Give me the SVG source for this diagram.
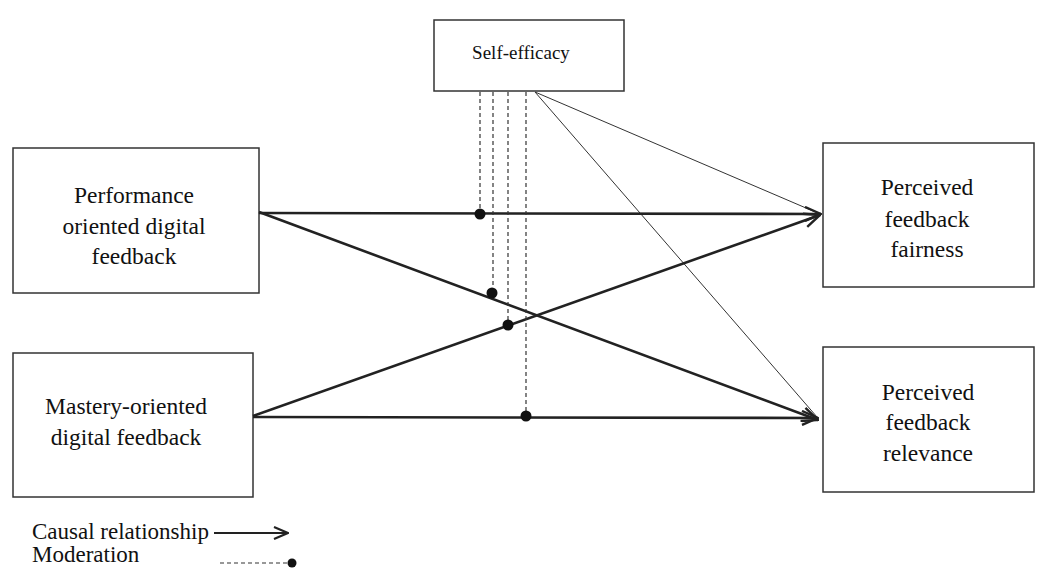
<svg xmlns="http://www.w3.org/2000/svg" width="1037" height="570" viewBox="0 0 1037 570">
<style>
.box{fill:#fff;stroke:#333;stroke-width:1.5}
.t{font-family:"Liberation Serif","Times New Roman",serif;font-size:23.5px;fill:#111;text-anchor:middle}
.lg{font-family:"Liberation Serif","Times New Roman",serif;font-size:23px;fill:#111}
.thick{stroke:#222;stroke-width:2.6;fill:none}
.thin{stroke:#333;stroke-width:1;fill:none}
.dash{stroke:#333;stroke-width:1.2;stroke-dasharray:4 3;fill:none}
.dot{fill:#111}
</style>
<defs>
<marker id="ah" viewBox="0 0 18 16" refX="17" refY="8" markerWidth="18" markerHeight="16" markerUnits="userSpaceOnUse" orient="auto">
<path d="M1,1 L17,8 L1,15" fill="none" stroke="#222" stroke-width="2.4"/>
</marker>
<marker id="ahs" viewBox="0 0 16 14" refX="15" refY="7" markerWidth="16" markerHeight="14" markerUnits="userSpaceOnUse" orient="auto">
<path d="M1,1 L15,7 L1,13" fill="none" stroke="#222" stroke-width="2.2"/>
</marker>
</defs>
<rect width="1037" height="570" fill="#fff"/>
<g id="self-efficacy"><rect class="box" x="434" y="20" width="190" height="71"/><text class="t" x="521" y="59" style="font-size:19px">Self-efficacy</text></g>
<g id="performance"><rect class="box" x="13" y="148" width="246" height="145"/><text class="t" x="134"><tspan x="134" y="203">Performance</tspan><tspan x="134" y="234">oriented digital</tspan><tspan x="134" y="264">feedback</tspan></text></g>
<g id="mastery"><rect class="box" x="13" y="353" width="240" height="144"/><text class="t"><tspan x="126" y="414">Mastery-oriented</tspan><tspan x="126" y="445">digital feedback</tspan></text></g>
<g id="fairness"><rect class="box" x="823" y="143" width="211" height="144"/><text class="t"><tspan x="927" y="195">Perceived</tspan><tspan x="927" y="227">feedback</tspan><tspan x="927" y="257">fairness</tspan></text></g>
<g id="relevance"><rect class="box" x="823" y="347" width="211" height="145"/><text class="t"><tspan x="928" y="400">Perceived</tspan><tspan x="928" y="430">feedback</tspan><tspan x="928" y="461">relevance</tspan></text></g>
<g id="connectors">
<line class="thin" x1="535" y1="92" x2="820" y2="214"/>
<line class="thin" x1="535" y1="92" x2="817" y2="417"/>
<line class="thick" x1="259" y1="213" x2="821" y2="214" marker-end="url(#ah)"/>
<line class="thick" x1="259" y1="212" x2="818" y2="420" marker-end="url(#ah)"/>
<line class="thick" x1="253" y1="416" x2="820" y2="215" marker-end="url(#ah)"/>
<line class="thick" x1="253" y1="417" x2="818" y2="418" marker-end="url(#ah)"/>
<line class="dash" x1="480" y1="92" x2="480" y2="214"/>
<line class="dash" x1="493" y1="92" x2="493" y2="292"/>
<line class="dash" x1="508" y1="92" x2="508" y2="325"/>
<line class="dash" x1="526" y1="92" x2="526" y2="416"/>
<circle class="dot" cx="480" cy="214" r="5.5"/>
<circle class="dot" cx="492" cy="293" r="5.5"/>
<circle class="dot" cx="508" cy="325" r="5.5"/>
<circle class="dot" cx="526" cy="416" r="5.5"/>
</g>
<g id="legend">
<text class="lg" x="32" y="539">Causal relationship</text>
<text class="lg" x="32" y="562">Moderation</text>
<line class="thick" x1="214" y1="533" x2="288" y2="533" marker-end="url(#ahs)" style="stroke-width:2.2"/>
<line class="dash" x1="220" y1="563" x2="290" y2="563"/>
<circle class="dot" cx="292" cy="563" r="4.5"/>
</g>
</svg>
